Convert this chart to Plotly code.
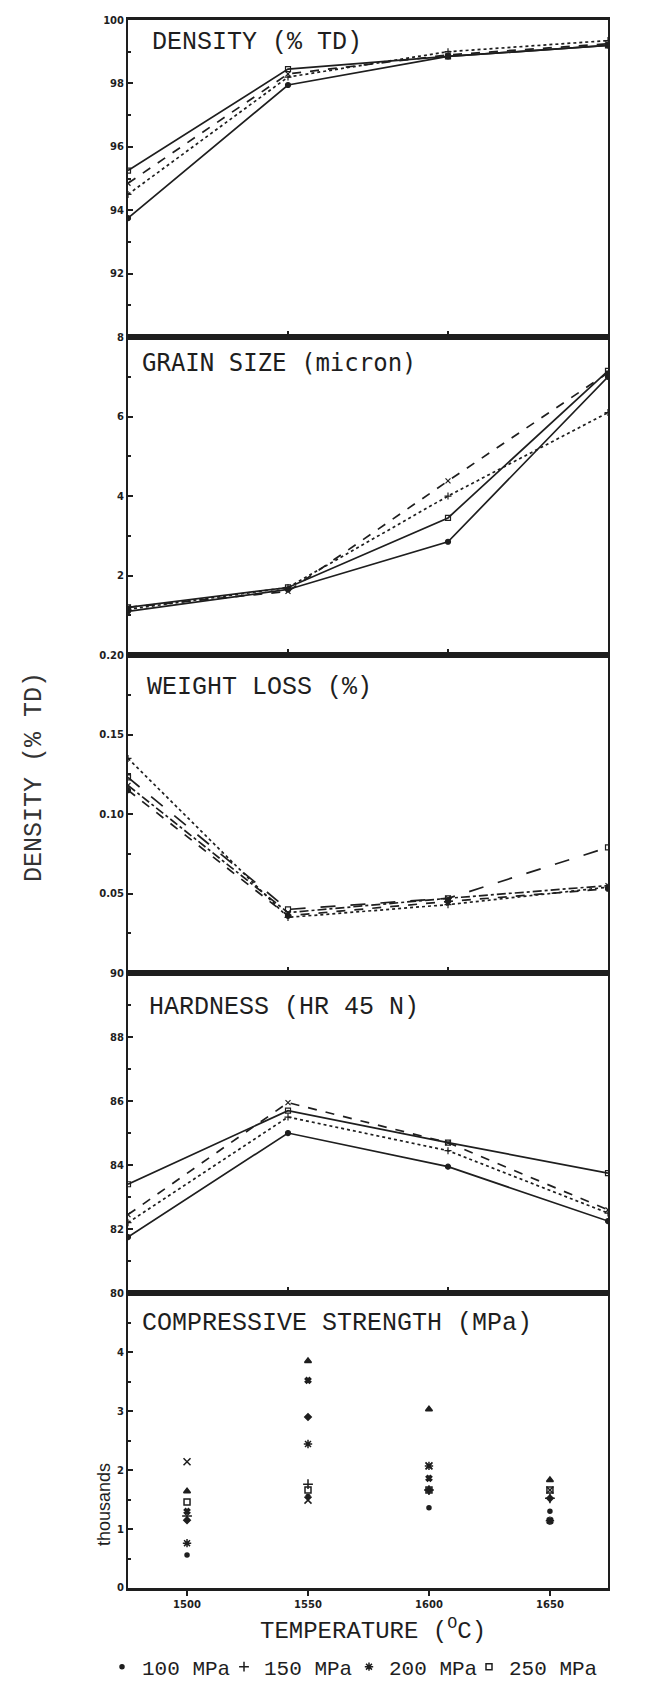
import plotly.graph_objects as go

# ---------------- data ----------------
temps = [1500, 1550, 1600, 1650]
pressures = ["100 MPa", "150 MPa", "200 MPa", "250 MPa"]

density_100 = [93.75, 97.95, 98.85, 99.2]
density_150 = [94.5, 98.2, 99.0, 99.35]
density_200 = [94.85, 98.3, 98.9, 99.25]
density_250 = [95.25, 98.45, 98.85, 99.2]

grain_100 = [1.1, 1.65, 2.85, 7.0]
grain_150 = [1.15, 1.7, 4.0, 6.1]
grain_200 = [1.2, 1.6, 4.38, 7.1]
grain_250 = [1.2, 1.7, 3.45, 7.15]

weight_100 = [0.115, 0.036, 0.045, 0.053]
weight_150 = [0.135, 0.035, 0.043, 0.054]
weight_200 = [0.118, 0.038, 0.047, 0.055]
weight_250 = [0.123, 0.040, 0.047, 0.079]

hard_100 = [81.75, 85.0, 83.95, 82.25]
hard_150 = [82.2, 85.5, 84.45, 82.5]
hard_200 = [82.45, 85.95, 84.7, 82.6]
hard_250 = [83.4, 85.7, 84.7, 83.75]

# compressive strength (thousands of MPa), two sample sets per pressure
comp_100_a = [0.56, 1.55, 1.36, 1.30]
comp_100_b = [1.30, 3.52, 1.86, 1.14]
comp_150_a = [1.22, 1.76, 1.66, 1.52]
comp_150_b = [1.15, 2.90, 1.66, 1.52]
comp_200_a = [0.76, 2.44, 2.07, 1.14]
comp_200_b = [1.64, 3.85, 3.03, 1.83]
comp_250_a = [1.46, 1.66, 1.66, 1.66]
comp_250_b = [2.14, 1.49, 2.07, 1.66]

panel_titles = ["DENSITY (% TD)", "GRAIN SIZE (micron)", "WEIGHT LOSS (%)",
                "HARDNESS (HR 45 N)", "COMPRESSIVE STRENGTH (MPa)"]

# ---------------- styling ----------------
INK = "#1e1e1e"
MONO = "Liberation Mono"
line_markers = ["circle", "cross-thin", "x-thin", "square-open"]
solid_styles = ["solid", "dot", "dash", "solid"]
weight_styles = ["dash", "dot", "dashdot", "longdash"]

domains = [
    [0.7978, 1.0],
    [0.5950, 0.7978],
    [0.3922, 0.5950],
    [0.1881, 0.3922],
    [0.0, 0.1881],
]

fig = go.Figure()

line_panels = [
    ([density_100, density_150, density_200, density_250], solid_styles),
    ([grain_100, grain_150, grain_200, grain_250], solid_styles),
    ([weight_100, weight_150, weight_200, weight_250], weight_styles),
    ([hard_100, hard_150, hard_200, hard_250], solid_styles),
]

for p, (series, styles) in enumerate(line_panels):
    ax = "" if p == 0 else str(p + 1)
    for i, vals in enumerate(series):
        fig.add_trace(go.Scatter(
            x=temps, y=vals, mode="lines+markers",
            name=pressures[i], showlegend=False,
            xaxis="x" + ax, yaxis="y" + ax,
            line=dict(color=INK, width=1.7, dash=styles[i]),
            marker=dict(symbol=line_markers[i], size=5, color=INK,
                        line=dict(color=INK, width=1.2)),
        ))

legend_ids = ["legend", "legend2", "legend3", "legend4"]
comp_sets = [
    (comp_100_a, "circle", 4, 0, True),
    (comp_100_b, "x", 5, 0, False),
    (comp_150_a, "cross-thin", 7, 1, True),
    (comp_150_b, "diamond", 5, 1, False),
    (comp_200_a, "asterisk", 7, 2, True),
    (comp_200_b, "triangle-up", 6, 2, False),
    (comp_250_a, "square-open", 6, 3, True),
    (comp_250_b, "x-thin", 7, 3, False),
]
for vals, sym, sz, k, show in comp_sets:
    fig.add_trace(go.Scatter(
        x=temps, y=vals, mode="markers", name=pressures[k],
        legendgroup=pressures[k], showlegend=show, legend=legend_ids[k],
        xaxis="x5", yaxis="y5",
        marker=dict(symbol=sym, size=sz, color=INK,
                    line=dict(color=INK, width=1.5)),
    ))

tickfont = dict(family="DejaVu Sans", size=10, color=INK, weight="bold")

def yaxis(dom, rng, tvals, ttext, minor_dtick, anchor):
    return dict(domain=dom, range=rng, tickvals=tvals, ticktext=ttext,
                ticks="inside", ticklen=5, tickwidth=1.5, tickcolor=INK,
                showline=True, linecolor=INK, linewidth=2, mirror=True,
                showgrid=False, zeroline=False, tickfont=tickfont,
                anchor=anchor,
                minor=dict(dtick=minor_dtick, ticks="inside", ticklen=3,
                           tickcolor=INK, showgrid=False))

def xaxis_top(anchor):
    return dict(domain=[0, 1], range=[1500, 1650], tickvals=[1550, 1600],
                showticklabels=False, ticks="inside", ticklen=6, tickwidth=1.5,
                tickcolor=INK, showline=True, linecolor=INK, linewidth=2.5,
                mirror=True, showgrid=False, zeroline=False, anchor=anchor)

def legend_at(px_left):
    return dict(orientation="h", xref="container", yref="container",
                x=px_left / 655, xanchor="left",
                y=1 - 1667 / 1699, yanchor="middle",
                font=dict(family=MONO, size=21, color=INK),
                itemwidth=30, bgcolor="rgba(0,0,0,0)", borderwidth=0)

layout = dict(
    width=655, height=1699,
    margin=dict(l=128, r=47, t=20, b=111, autoexpand=False),
    paper_bgcolor="white", plot_bgcolor="white",
    showlegend=True,
    legend=legend_at(102),
    legend2=legend_at(224),
    legend3=legend_at(349),
    legend4=legend_at(469),
)

layout["xaxis"] = xaxis_top("y")
layout["xaxis2"] = xaxis_top("y2")
layout["xaxis3"] = xaxis_top("y3")
layout["xaxis4"] = xaxis_top("y4")
layout["xaxis5"] = dict(domain=[0, 1], range=[1475.6, 1674],
                        tickvals=[1500, 1550, 1600, 1650],
                        ticks="outside", ticklen=5, tickwidth=1.5, tickcolor=INK,
                        showline=True, linecolor=INK, linewidth=2.5, mirror=True,
                        showgrid=False, zeroline=False, tickfont=tickfont,
                        anchor="y5")

layout["yaxis"] = yaxis(domains[0], [90, 100], [92, 94, 96, 98, 100],
                        ["92", "94", "96", "98", "100"], 1, "x")
layout["yaxis2"] = yaxis(domains[1], [0, 8], [2, 4, 6, 8],
                         ["2", "4", "6", "8"], 1, "x2")
layout["yaxis3"] = yaxis(domains[2], [0, 0.2], [0.05, 0.10, 0.15, 0.20],
                         ["0.05", "0.10", "0.15", "0.20"], 0.025, "x3")
layout["yaxis4"] = yaxis(domains[3], [80, 90], [80, 82, 84, 86, 88, 90],
                         ["80", "82", "84", "86", "88", "90"], 1, "x4")
layout["yaxis5"] = yaxis(domains[4], [0, 5], [0, 1, 2, 3, 4],
                         ["0", "1", "2", "3", "4"], 0.5, "x5")

fig.update_layout(**layout)

# panel titles (pixel positions converted to paper coords)
title_pos = [(150, 42), (140, 363), (145, 687), (147, 1008), (140, 1323)]
title_fonts = [MONO, "DejaVu Sans Mono", MONO, MONO, MONO]
title_sizes = [25, 24, 25, 25, 25]
for t, (px, py), fam, sz in zip(panel_titles, title_pos, title_fonts, title_sizes):
    fig.add_annotation(text=t, xref="paper", yref="paper",
                       x=(px - 128) / 480, y=(1588 - py) / 1568,
                       xanchor="left", yanchor="middle", showarrow=False,
                       font=dict(family=fam, size=sz, color=INK))

fig.add_annotation(text="TEMPERATURE (<sup>O</sup>C)", xref="paper", yref="paper",
                   x=(373 - 128) / 480, y=(1588 - 1630) / 1568,
                   xanchor="center", yanchor="middle", showarrow=False,
                   font=dict(family=MONO, size=24, color=INK))

fig.add_annotation(text="thousands", xref="paper", yref="paper",
                   x=(104 - 128) / 480, y=(1588 - 1505) / 1568,
                   xanchor="center", yanchor="middle", showarrow=False,
                   textangle=-90,
                   font=dict(family="Liberation Sans", size=18, color=INK))

fig.add_annotation(text="DENSITY (% TD)", xref="paper", yref="paper",
                   x=(34 - 128) / 480, y=(1588 - 777) / 1568,
                   xanchor="center", yanchor="middle", showarrow=False,
                   textangle=-90,
                   font=dict(family=MONO, size=25, color="#333333"))

fig.write_html("out.html")
